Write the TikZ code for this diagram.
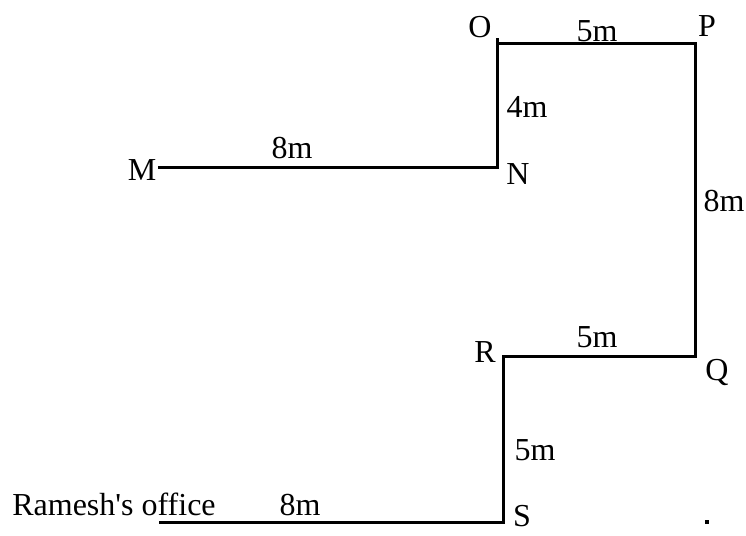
\documentclass[tikz,border=0pt]{standalone}
\usepackage{fontspec}
\setmainfont{Liberation Serif}
\usepackage{tikz}
\usetikzlibrary{positioning}
\tikzstyle{route} = [line width=3pt, black, line join=miter]
\tikzstyle{pointlabel} = [font=\fontsize{32}{36}\selectfont, inner sep=0pt, text height=21pt, text depth=0pt]
\tikzstyle{distlabel} = [font=\fontsize{32}{36}\selectfont, inner sep=0pt, text height=21pt, text depth=0pt]

\begin{document}
\begin{tikzpicture}[x=1pt, y=-1pt]
        \useasboundingbox (0,0) rectangle (746,535);
        % corners of the walk
        \coordinate (m) at (158,167);
        \coordinate (n) at (497,167);
        \coordinate (o) at (497,44);
        \coordinate (p) at (695,44);
        \coordinate (q) at (695,356);
        \coordinate (r) at (503,356);
        \coordinate (s) at (503,522);
        \coordinate (office) at (159,522);

        \draw [route] (m) -- (n) -- (o) -- (p) -- (q) -- (r) -- (s) -- (office);
        \draw [route] (o) -- ++(0,-6);

        % letters
        \node (lm) [pointlabel] at (142,170) {M};
        \node (ln) [pointlabel] at (518,174) {N};
        \node (lo) [pointlabel] at (480,27) {O};
        \node (lp) [pointlabel] at (707,26) {P};
        \node (lq) [pointlabel] at (717,370) {Q};
        \node (lr) [pointlabel] at (485,352) {R};
        \node (ls) [pointlabel] at (522,516) {S};
        \node (loffice) [pointlabel] at (114,505) {Ramesh\textquotesingle s office};

        % distances
        \node (dmn) [distlabel] at (292,148) {8m};
        \node (dno) [distlabel] at (527,107) {4m};
        \node (dop) [distlabel] at (597,31) {5m};
        \node (dpq) [distlabel] at (724,201) {8m};
        \node (dqr) [distlabel] at (597,337) {5m};
        \node (drs) [distlabel] at (535,450) {5m};
        \node (dso) [distlabel] at (300,505) {8m};

        \node (dot) [fill=black, inner sep=0pt, minimum size=4pt] at (707,522) {};
    \end{tikzpicture}
\end{document}
